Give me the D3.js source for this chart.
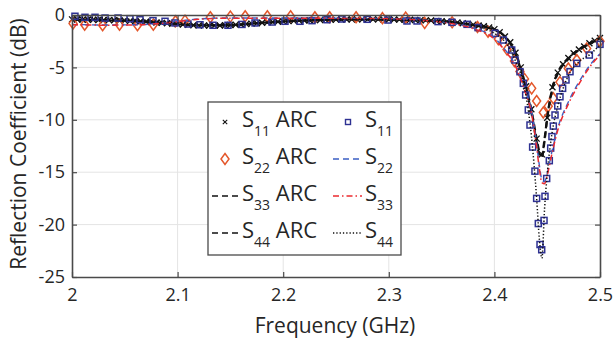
<!DOCTYPE html>
<html>
<head>
<meta charset="utf-8">
<script src="https://cdn.jsdelivr.net/npm/d3@7"></script>
<style>
  html, body { margin: 0; padding: 0; background: #fff; }
  svg { display: block; font-family: "Open Sans", "Noto Sans", sans-serif; }
</style>
</head>
<body>
<svg id="chart" width="614" height="343"></svg>
<script>
// ---- Axis ticks -------------------------------------------------------
const xTicks = [2, 2.1, 2.2, 2.3, 2.4, 2.5];
const xTickLabels = ["2", "2.1", "2.2", "2.3", "2.4", "2.5"];
const yTicks = [0, -5, -10, -15, -20, -25];
const yTickLabels = ["0", "-5", "-10", "-15", "-20", "-25"];

// ---- S11 ARC: dense sweep, drawn as x markers (GHz / dB) ---------------
const s11ArcFreq = [
  2.000, 2.005, 2.010, 2.015, 2.020, 2.025, 2.030, 2.035, 2.040, 2.045,
  2.050, 2.055, 2.060, 2.065, 2.070, 2.075, 2.080, 2.085, 2.090, 2.095,
  2.100, 2.105, 2.110, 2.115, 2.120, 2.125, 2.130, 2.135, 2.140, 2.145,
  2.150, 2.155, 2.160, 2.165, 2.170, 2.175, 2.180, 2.185, 2.190, 2.195,
  2.200, 2.205, 2.210, 2.215, 2.220, 2.225, 2.230, 2.235, 2.240, 2.245,
  2.250, 2.255, 2.260, 2.265, 2.270, 2.275, 2.280, 2.285, 2.290, 2.295,
  2.300, 2.305, 2.310, 2.315, 2.320, 2.325, 2.330, 2.335, 2.340, 2.345,
  2.350, 2.355, 2.360, 2.365, 2.370, 2.375, 2.380, 2.385, 2.390, 2.395,
  2.400, 2.405, 2.410, 2.415, 2.420, 2.425, 2.430, 2.435, 2.440, 2.445,
  2.450, 2.455, 2.460, 2.465, 2.470, 2.475, 2.480, 2.485, 2.490, 2.495,
  2.500
];
const s11ArcDb = [
  -0.42, -0.43, -0.44, -0.45, -0.46, -0.47, -0.48, -0.49, -0.50, -0.52,
  -0.54, -0.56, -0.58, -0.61, -0.64, -0.67, -0.71, -0.75, -0.79, -0.83,
  -0.87, -0.91, -0.94, -0.97, -0.99, -1.00, -1.01, -1.01, -1.00, -0.98,
  -0.96, -0.93, -0.90, -0.86, -0.82, -0.78, -0.74, -0.70, -0.67, -0.64,
  -0.61, -0.58, -0.56, -0.54, -0.52, -0.50, -0.48, -0.47, -0.46, -0.45,
  -0.44, -0.43, -0.43, -0.42, -0.42, -0.42, -0.42, -0.42, -0.42, -0.42,
  -0.43, -0.43, -0.44, -0.45, -0.46, -0.47, -0.49, -0.51, -0.53, -0.56,
  -0.59, -0.63, -0.67, -0.72, -0.78, -0.85, -0.92, -1.00, -1.08, -1.20,
  -1.35, -1.65, -2.05, -2.60, -3.60, -5.00, -6.80, -9.00, -11.8, -13.3,
  -9.80, -6.90, -5.50, -4.70, -4.10, -3.65, -3.30, -3.00, -2.70, -2.45,
  -2.20
];

// ---- S22 ARC: diamond markers ------------------------------------------
const s22ArcFreq = [
  2.001, 2.012, 2.029, 2.045, 2.062, 2.077, 2.098, 2.107, 2.131, 2.150,
  2.164, 2.185, 2.207, 2.230, 2.244, 2.269, 2.294, 2.316, 2.334, 2.360,
  2.384, 2.394, 2.4037, 2.412, 2.419, 2.4242, 2.4285, 2.4353, 2.440, 2.4463,
  2.451, 2.4558, 2.4621, 2.470, 2.478, 2.4874, 2.500
];
const s22ArcDb = [
  -0.80, -0.93, -0.98, -0.93, -0.98, -0.93, -0.60, -0.54, -0.22, -0.15,
  -0.12, -0.12, -0.12, -0.22, -0.22, -0.22, -0.30, -0.25, -0.75, -0.70,
  -1.15, -1.60, -2.30, -3.30, -4.40, -5.40, -6.10, -7.00, -8.20, -9.30,
  -8.70, -7.95, -6.40, -5.10, -4.30, -3.20, -2.50
];

// ---- S11: square markers -----------------------------------------------
const s11Freq = [
  2.0028, 2.0123, 2.0218, 2.0313, 2.0436, 2.0549, 2.0644, 2.0767, 2.0881, 2.0975,
  2.1098, 2.1212, 2.1335, 2.1477, 2.1610, 2.1733, 2.1894, 2.2017, 2.2159, 2.2273,
  2.2415, 2.2557, 2.2794, 2.2992, 2.3172, 2.3267, 2.3466, 2.3598, 2.3741, 2.3845,
  2.4006, 2.4085, 2.4164, 2.4195, 2.4242, 2.4274, 2.4296, 2.4321, 2.4337, 2.4362,
  2.4384, 2.4400, 2.4416, 2.4432, 2.4448, 2.4470, 2.4479, 2.4495, 2.4520, 2.4533,
  2.4545, 2.4558, 2.4574, 2.4600, 2.4621, 2.4646, 2.4678, 2.4716, 2.4780, 2.4899,
  2.5000
];
const s11Db = [
  -0.12, -0.22, -0.22, -0.29, -0.29, -0.35, -0.45, -0.54, -0.60, -0.76,
  -0.86, -0.93, -0.98, -0.98, -0.90, -0.76, -0.67, -0.60, -0.60, -0.54,
  -0.45, -0.38, -0.41, -0.48, -0.57, -0.57, -0.63, -0.70, -0.89, -1.20,
  -1.75, -2.39, -3.34, -4.29, -5.41, -6.52, -7.63, -9.06, -10.5, -12.6,
  -14.9, -17.5, -19.9, -21.9, -22.4, -19.6, -17.3, -15.6, -13.9, -12.7,
  -11.6, -10.6, -9.54, -8.68, -7.80, -7.00, -6.20, -5.41, -4.61, -3.82,
  -2.80
];

// ---- Line series, shared frequency points (GHz) ------------------------
const lineFreq = [
  2.00, 2.03, 2.06, 2.09, 2.12, 2.15, 2.18, 2.21, 2.24, 2.27,
  2.30, 2.33, 2.36, 2.38, 2.40, 2.41, 2.42, 2.43, 2.435, 2.44,
  2.4425, 2.445, 2.4475, 2.45, 2.455, 2.46, 2.47, 2.48, 2.49, 2.50
];
const s33ArcDb = [
  -0.42, -0.48, -0.58, -0.79, -0.99, -0.96, -0.74, -0.56, -0.46, -0.42,
  -0.43, -0.49, -0.67, -0.95, -1.35, -2.05, -3.60, -6.90, -9.00, -11.8,
  -13.0, -13.4, -11.8, -9.80, -6.90, -5.50, -4.10, -3.30, -2.70, -2.20
];
const s44ArcDb = [
  -0.44, -0.50, -0.60, -0.80, -1.00, -0.97, -0.76, -0.57, -0.47, -0.43,
  -0.44, -0.50, -0.69, -0.98, -1.40, -2.10, -3.70, -7.10, -9.30, -12.1,
  -13.3, -13.6, -12.0, -9.90, -7.00, -5.60, -4.20, -3.35, -2.75, -2.25
];
const s22Db = [
  -0.90, -0.95, -0.93, -0.72, -0.38, -0.28, -0.28, -0.29, -0.31, -0.32,
  -0.35, -0.48, -0.80, -1.25, -2.20, -3.30, -4.80, -7.40, -9.10, -12.3,
  -14.3, -15.7, -15.9, -15.1, -12.8, -10.8, -8.30, -6.40, -4.85, -3.70
];
const s33Db = [
  -0.92, -0.97, -0.95, -0.75, -0.40, -0.30, -0.30, -0.30, -0.32, -0.33,
  -0.36, -0.50, -0.82, -1.30, -2.30, -3.40, -4.90, -7.60, -9.30, -12.6,
  -14.6, -16.0, -16.1, -15.3, -13.0, -11.0, -8.50, -6.60, -5.00, -3.80
];
const s44Db = [
  -0.18, -0.28, -0.44, -0.66, -0.90, -0.96, -0.74, -0.60, -0.47, -0.40,
  -0.47, -0.56, -0.70, -1.00, -1.75, -2.55, -4.40, -7.70, -11.5, -17.5,
  -21.3, -23.2, -18.5, -15.2, -11.0, -8.70, -5.80, -4.45, -3.80, -2.85
];

// ---- Colours -----------------------------------------------------------
const COLOR_BLACK = "#111111";
const COLOR_ORANGE = "#E4572B";
const COLOR_NAVY = "#2E3192";
const COLOR_BLUE = "#3B5FC4";
const COLOR_RED = "#EC2A2F";
const COLOR_TEXT = "#262626";
const COLOR_AXIS = "#4a4a4a";
const COLOR_GRID = "#e4e4e4";

// ---- Layout ------------------------------------------------------------
const plot = { left: 72, right: 600, top: 15, bottom: 277 };
const svg = d3.select("#chart");

const x = d3.scaleLinear().domain([2, 2.5]).range([plot.left, plot.right]);
const y = d3.scaleLinear().domain([-25, 0]).range([plot.bottom, plot.top]);

const zip = (fs, vs) => fs.map((f, i) => ({ f, v: vs[i] }));

// Grid
const grid = svg.append("g").attr("stroke", COLOR_GRID).attr("stroke-width", 1);
grid.selectAll("line.gx").data(xTicks.slice(1, -1)).join("line")
  .attr("x1", d => x(d)).attr("x2", d => x(d))
  .attr("y1", plot.top).attr("y2", plot.bottom);
grid.selectAll("line.gy").data(yTicks.slice(1, -1)).join("line")
  .attr("x1", plot.left).attr("x2", plot.right)
  .attr("y1", d => y(d)).attr("y2", d => y(d));

// Marker shapes
const xMark = s => `M${-s},${-s}L${s},${s}M${-s},${s}L${s},${-s}`;
const diamond = (w, h) => `M0,${-h}L${w},0L0,${h}L${-w},0Z`;

const line = d3.line().x(d => x(d.f)).y(d => y(d.v)).curve(d3.curveMonotoneX);
const data = svg.append("g");

// S11 ARC (x markers)
data.append("g").selectAll("path").data(zip(s11ArcFreq, s11ArcDb)).join("path")
  .attr("transform", d => `translate(${x(d.f)},${y(d.v)})`)
  .attr("d", xMark(3)).attr("fill", "none")
  .attr("stroke", COLOR_BLACK).attr("stroke-width", 1.3);

// S22 ARC (diamonds)
data.append("g").selectAll("path").data(zip(s22ArcFreq, s22ArcDb)).join("path")
  .attr("transform", d => `translate(${x(d.f)},${y(d.v)})`)
  .attr("d", diamond(4, 5.5)).attr("fill", "none")
  .attr("stroke", COLOR_ORANGE).attr("stroke-width", 1.5);

// S33 ARC, S44 ARC (black dashed)
data.append("path").datum(zip(lineFreq, s33ArcDb)).attr("d", line)
  .attr("fill", "none").attr("stroke", COLOR_BLACK).attr("stroke-width", 2.2)
  .attr("stroke-dasharray", "6,4");
data.append("path").datum(zip(lineFreq, s44ArcDb)).attr("d", line)
  .attr("fill", "none").attr("stroke", COLOR_BLACK).attr("stroke-width", 2.2)
  .attr("stroke-dasharray", "6,4").attr("stroke-dashoffset", 5);

// S11 (squares)
data.append("g").selectAll("rect").data(zip(s11Freq, s11Db)).join("rect")
  .attr("x", d => x(d.f) - 3).attr("y", d => y(d.v) - 3)
  .attr("width", 6).attr("height", 6).attr("fill", "none")
  .attr("stroke", COLOR_NAVY).attr("stroke-width", 1.5);

// S22 (blue dashed)
data.append("path").datum(zip(lineFreq, s22Db)).attr("d", line)
  .attr("fill", "none").attr("stroke", COLOR_BLUE).attr("stroke-width", 1.4)
  .attr("stroke-dasharray", "6,4");

// S33 (red dash-dot)
data.append("path").datum(zip(lineFreq, s33Db)).attr("d", line)
  .attr("fill", "none").attr("stroke", COLOR_RED).attr("stroke-width", 1.5)
  .attr("stroke-dasharray", "6,3,1.5,3");

// S44 (black dotted)
data.append("path").datum(zip(lineFreq, s44Db)).attr("d", line)
  .attr("fill", "none").attr("stroke", COLOR_BLACK).attr("stroke-width", 1.5)
  .attr("stroke-dasharray", "1.3,2");

// ---- Axes --------------------------------------------------------------
const axisStyle = g => {
  g.selectAll(".domain").attr("stroke", COLOR_AXIS).attr("stroke-width", 1.6);
  g.selectAll(".tick line").attr("stroke", COLOR_AXIS).attr("stroke-width", 1.2);
  g.selectAll(".tick text").attr("fill", COLOR_TEXT).attr("font-size", 18)
    .attr("font-family", "'Open Sans', sans-serif");
};

svg.append("g").attr("transform", `translate(0,${plot.bottom})`)
  .call(d3.axisBottom(x).tickValues(xTicks).tickFormat((d, i) => xTickLabels[i])
    .tickSizeInner(-5).tickSizeOuter(0).tickPadding(11))
  .call(axisStyle);
svg.append("g").attr("transform", `translate(0,${plot.top})`)
  .call(d3.axisTop(x).tickValues(xTicks).tickFormat("")
    .tickSizeInner(-5).tickSizeOuter(0))
  .call(axisStyle);
svg.append("g").attr("transform", `translate(${plot.left},0)`)
  .call(d3.axisLeft(y).tickValues(yTicks).tickFormat((d, i) => yTickLabels[i])
    .tickSizeInner(-5).tickSizeOuter(0).tickPadding(7))
  .call(axisStyle);
svg.append("g").attr("transform", `translate(${plot.right},0)`)
  .call(d3.axisRight(y).tickValues(yTicks).tickFormat("")
    .tickSizeInner(-5).tickSizeOuter(0))
  .call(axisStyle);

// Axis titles
svg.append("text")
  .attr("x", 335).attr("y", 333)
  .attr("text-anchor", "middle").attr("font-size", 21).attr("fill", COLOR_TEXT)
  .text("Frequency (GHz)");
svg.append("text")
  .attr("transform", `translate(26,144) rotate(-90)`)
  .attr("text-anchor", "middle").attr("font-size", 21).attr("fill", COLOR_TEXT)
  .text("Reflection Coefficient (dB)");

// ---- Legend ------------------------------------------------------------
const legendItems = [
  { name: "11", arc: true,  col: 0, row: 0, kind: "x" },
  { name: "22", arc: true,  col: 0, row: 1, kind: "diamond" },
  { name: "33", arc: true,  col: 0, row: 2, kind: "dash" },
  { name: "44", arc: true,  col: 0, row: 3, kind: "dash" },
  { name: "11", arc: false, col: 1, row: 0, kind: "square" },
  { name: "22", arc: false, col: 1, row: 1, kind: "blue" },
  { name: "33", arc: false, col: 1, row: 2, kind: "red" },
  { name: "44", arc: false, col: 1, row: 3, kind: "dot" }
];

const legend = svg.append("g");
legend.append("rect").attr("x", 208).attr("y", 102).attr("width", 193).attr("height", 153)
  .attr("fill", "#fff").attr("stroke", COLOR_AXIS).attr("stroke-width", 1.3);

const colSample = [{ x0: 212, x1: 240, cx: 225, tx: 242 }, { x0: 333, x1: 362, cx: 348, tx: 365 }];
const rowY = [122, 159, 196, 233];

legendItems.forEach(it => {
  const c = colSample[it.col], cy = rowY[it.row];
  const g = legend.append("g");
  if (it.kind === "x") {
    g.append("path").attr("transform", `translate(${c.cx},${cy})`).attr("d", xMark(2.2))
      .attr("stroke", COLOR_BLACK).attr("stroke-width", 1.1);
  } else if (it.kind === "diamond") {
    g.append("path").attr("transform", `translate(${c.cx},${cy})`).attr("d", diamond(4, 5.5))
      .attr("fill", "none").attr("stroke", COLOR_ORANGE).attr("stroke-width", 1.5);
  } else if (it.kind === "square") {
    g.append("rect").attr("x", c.cx - 2.5).attr("y", cy - 2.5).attr("width", 5).attr("height", 5)
      .attr("fill", "none").attr("stroke", COLOR_NAVY).attr("stroke-width", 1.4);
  } else {
    const styles = {
      dash: [COLOR_BLACK, "6,4", 1.5],
      blue: [COLOR_BLUE, "6,4", 1.4],
      red:  [COLOR_RED, "6,3,1.5,3", 1.5],
      dot:  [COLOR_BLACK, "1.3,2", 1.5]
    }[it.kind];
    g.append("line").attr("x1", c.x0).attr("x2", c.x1).attr("y1", cy).attr("y2", cy)
      .attr("stroke", styles[0]).attr("stroke-dasharray", styles[1]).attr("stroke-width", styles[2]);
  }
  const t = g.append("text").attr("x", c.tx).attr("y", cy + 5)
    .attr("font-size", 22).attr("fill", COLOR_TEXT);
  t.append("tspan").text("S");
  t.append("tspan").attr("dy", 9).attr("font-size", 14).text(it.name);
  if (it.arc) t.append("tspan").attr("dy", -9).attr("font-size", 22).text(" ARC");
});
</script>
</body>
</html>
